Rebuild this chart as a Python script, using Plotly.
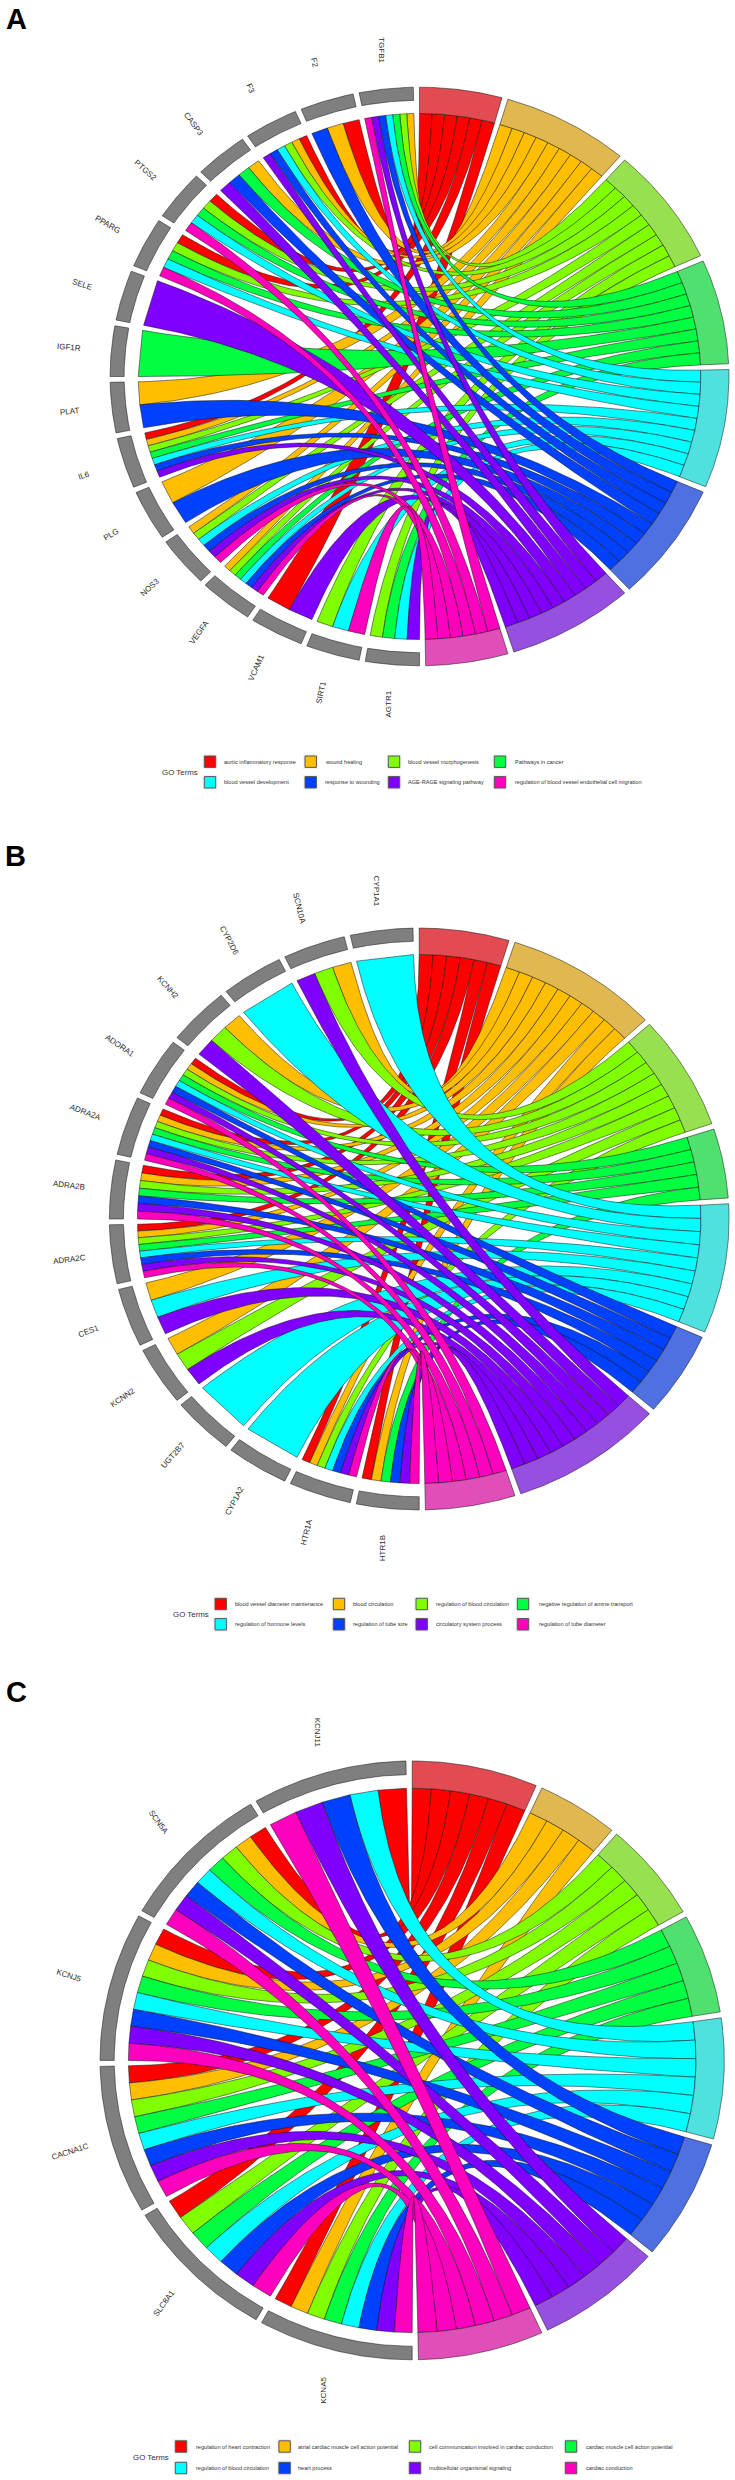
import math
import plotly.graph_objects as go

W, H = 735, 2480

RIBBON_COLORS = ["#FF0000", "#FFBF00", "#80FF00", "#00FF40", "#00FFFF", "#0040FF", "#8000FF", "#FF00BF"]
ARC_COLORS = ["#E24B52", "#E0B84F", "#97E04F", "#4FE070", "#4FE0E0", "#4F70E0", "#974FE0", "#E04FB8"]

A_GENES = ["TGFB1", "F2", "F3", "CASP3", "PTGS2", "PPARG", "SELE", "IGF1R", "PLAT", "IL6", "PLG", "NOS3", "VEGFA", "VCAM1", "SIRT1", "AGTR1"]
A_TERMS = ["aortic inflammatory response", "wound healing", "blood vessel morphogenesis", "Pathways in cancer",
           "blood vessel development", "response to wounding", "AGE-RAGE signaling pathway",
           "regulation of blood vessel endothelial cell migration"]
A_MEMBERS = [[0, 1, 1, 1, 1, 1, 1, 1], [1, 1, 0, 0, 0, 1, 0, 0], [1, 1, 1, 0, 1, 1, 1, 0], [0, 1, 0, 1, 0, 1, 1, 0],
             [1, 0, 1, 1, 1, 0, 0, 1], [1, 0, 1, 1, 1, 0, 0, 1], [0, 0, 0, 0, 0, 0, 1, 0], [0, 0, 0, 1, 0, 0, 0, 0],
             [0, 1, 0, 0, 0, 1, 0, 0], [1, 1, 1, 1, 1, 1, 1, 0], [0, 1, 0, 0, 0, 1, 0, 0], [0, 1, 1, 0, 1, 1, 1, 1],
             [0, 1, 1, 1, 1, 1, 1, 1], [1, 0, 0, 0, 0, 0, 1, 0], [0, 0, 1, 0, 1, 0, 0, 1], [0, 0, 1, 1, 1, 0, 1, 0]]

B_GENES = ["CYP1A1", "SCN10A", "CYP2D6", "KCNH2", "ADORA1", "ADRA2A", "ADRA2B", "ADRA2C", "CES1", "KCNN2", "UGT2B7", "CYP1A2", "HTR1A", "HTR1B"]
B_TERMS = ["blood vessel diameter maintenance", "blood circulation", "regulation of blood circulation",
           "negative regulation of amine transport", "regulation of hormone levels", "regulation of tube size",
           "circulatory system process", "regulation of tube diameter"]
B_MEMBERS = [[0, 0, 0, 0, 1, 0, 0, 0], [0, 1, 1, 0, 0, 0, 1, 0], [0, 0, 0, 0, 1, 0, 0, 0], [0, 1, 1, 0, 0, 0, 1, 0],
             [1, 1, 1, 1, 1, 1, 1, 1], [1, 1, 1, 1, 1, 1, 1, 1], [1, 1, 1, 1, 0, 1, 1, 1], [1, 1, 1, 1, 1, 1, 1, 1],
             [0, 1, 0, 0, 1, 0, 1, 0], [0, 1, 1, 0, 0, 0, 1, 0], [0, 0, 0, 0, 1, 0, 0, 0], [0, 0, 0, 0, 1, 0, 0, 0],
             [1, 1, 1, 0, 1, 1, 1, 1], [1, 1, 0, 1, 0, 1, 1, 1]]

C_GENES = ["KCNJ11", "SCN5A", "KCNJ5", "CACNA1C", "SLC8A1", "KCNA5"]
C_TERMS = ["regulation of heart contraction", "atrial cardiac muscle cell action potential",
           "cell communication involved in cardiac conduction", "cardiac muscle cell action potential",
           "regulation of blood circulation", "heart process", "multicellular organismal signaling", "cardiac conduction"]
C_MEMBERS = [[1, 0, 0, 0, 1, 1, 1, 1], [1, 1, 1, 1, 1, 1, 1, 1], [1, 1, 1, 1, 1, 1, 1, 1], [1, 1, 1, 1, 1, 1, 1, 1],
             [1, 0, 1, 1, 1, 1, 1, 1], [1, 1, 1, 1, 1, 1, 1, 1]]

# Layout (pixels): circle centre and radii, legend columns/rows, label position
PANELS = [
    dict(letter="A", genes=A_GENES, terms=A_TERMS, members=A_MEMBERS, cx=419.5, cy=376.5, rx=281.3, ry=263.0,
         letter_xy=(4, 19), title_xy=(160, 772), key_x=[210, 310.7, 394, 500], text_x=[222, 323, 406, 513], rows=[761.7, 782.3]),
    dict(letter="B", genes=B_GENES, terms=B_TERMS, members=B_MEMBERS, cx=419.2, cy=1219.0, rx=281.7, ry=264.5,
         letter_xy=(3, 856), title_xy=(170.7, 1614), key_x=[220.7, 339, 421.7, 523], text_x=[233, 351, 434, 537], rows=[1604, 1624.3]),
    dict(letter="C", genes=C_GENES, terms=C_TERMS, members=C_MEMBERS, cx=412.2, cy=2060.4, rx=283.8, ry=272.2,
         letter_xy=(4, 1692), title_xy=(131, 2457), key_x=[181, 284.6, 415, 571], text_x=[194, 296, 427, 584], rows=[2446.5, 2468]),
]

SPACE, R1, R2, GENE_R0, LABEL_R = 0.02, 1.0, 1.1, 1.05, 1.25
FONT = "Liberation Sans, Arial, sans-serif"


def band(a0, a1, r0, r1, n=50):
    angs = [a0 + (a1 - a0) * i / (n - 1) for i in range(n)]
    x = [r0 * math.sin(a) for a in angs] + [r1 * math.sin(a) for a in reversed(angs)]
    y = [r0 * math.cos(a) for a in angs] + [r1 * math.cos(a) for a in reversed(angs)]
    return x + x[:1], y + y[:1]


def poly(fig, x, y, fill, axis_id, width=0.5):
    fig.add_trace(go.Scatter(x=x, y=y, mode="lines", fill="toself", fillcolor=fill,
                             line=dict(color="#111111", width=width), hoverinfo="skip", showlegend=False,
                             xaxis=f"x{axis_id}", yaxis=f"y{axis_id}"))


fig = go.Figure()
annotations, shapes = [], []
layout_axes = {}

for idx, p in enumerate(PANELS, start=1):
    suffix = "" if idx == 1 else str(idx)
    x_lo, x_hi, y_lo, y_hi = -1.4, 1.12, -1.33, 1.33
    layout_axes[f"xaxis{suffix}"] = dict(range=[x_lo, x_hi], visible=False, fixedrange=True,
                                         domain=[(p["cx"] + x_lo * p["rx"]) / W, (p["cx"] + x_hi * p["rx"]) / W])
    layout_axes[f"yaxis{suffix}"] = dict(range=[y_lo, y_hi], visible=False, fixedrange=True,
                                         domain=[1 - (p["cy"] - y_lo * p["ry"]) / H, 1 - (p["cy"] - y_hi * p["ry"]) / H])

    members = p["members"]
    n_gene, n_term = len(members), len(members[0])
    nrib = [sum(row[t] for row in members) for t in range(n_term)]
    total = sum(nrib)

    # term arcs
    starts, spans, acc = [], [], 0.0
    for t in range(n_term):
        perc = nrib[t] / total
        starts.append(acc)
        spans.append(math.pi * perc - SPACE)
        acc += math.pi * perc

    # gene arcs
    g_step = (-math.pi + math.pi / n_gene) / (n_gene - 1)
    g_start = [-SPACE + g_step * i for i in range(n_gene)]
    g_span = -math.pi / n_gene + SPACE

    # gene-side ribbon ends, grouped by term
    ends = {t: [] for t in range(n_term)}
    for g in range(n_gene):
        pros = [t for t in range(n_term) if members[g][t]]
        k = len(pros)
        vals = [g_start[g] + g_span * i / k for i in range(k + 1)]
        for v, t in enumerate(pros):
            ends[t].append((math.sin(vals[v]), math.cos(vals[v])))
            ends[t].append((math.sin(vals[v + 1]), math.cos(vals[v + 1])))

    ts = [i / 100 for i in range(101)]
    for t in range(n_term):
        pts = sorted(ends[t], key=lambda e: -e[1])
        vals = [starts[t] + spans[t] * i / nrib[t] for i in range(nrib[t] + 1)]
        for r in range(nrib[t]):
            e0, e1 = pts[2 * r], pts[2 * r + 1]
            s0 = (math.sin(vals[r]), math.cos(vals[r]))
            s1 = (math.sin(vals[r + 1]), math.cos(vals[r + 1]))
            x0 = [(1 - u) ** 2 * s0[0] + u ** 2 * e0[0] for u in ts]
            y0 = [(1 - u) ** 2 * s0[1] + u ** 2 * e0[1] for u in ts]
            x1 = [(1 - u) ** 2 * s1[0] + u ** 2 * e1[0] for u in ts]
            y1 = [(1 - u) ** 2 * s1[1] + u ** 2 * e1[1] for u in ts]
            xs = x0 + x1[::-1] + x0[:1]
            ys = y0 + y1[::-1] + y0[:1]
            poly(fig, xs, ys, RIBBON_COLORS[t], idx)

    for t in range(n_term):
        x, y = band(starts[t], starts[t] + spans[t], R1, R2)
        poly(fig, x, y, ARC_COLORS[t], idx)

    for g in range(n_gene):
        x, y = band(g_start[g], g_start[g] + g_span, GENE_R0, R2)
        poly(fig, x, y, "#7F7F7F", idx)
        mid = g_start[g] + g_span / 2
        o = 180 * g / (n_gene - 1)
        ang = o + 270 if o + 270 <= 360 else o - 90
        annotations.append(dict(x=LABEL_R * math.sin(mid), y=LABEL_R * math.cos(mid), xref=f"x{suffix}", yref=f"y{suffix}",
                                text=p["genes"][g], showarrow=False, textangle=((-ang + 180) % 360) - 180,
                                font=dict(family=FONT, size=8, color="#2A2A2A"), xanchor="center", yanchor="middle"))

    # legend
    lx, ly = p["letter_xy"]
    annotations.append(dict(x=lx / W, y=1 - ly / H, xref="paper", yref="paper", text=f"<b>{p['letter']}</b>", showarrow=False,
                            xanchor="left", yanchor="middle", font=dict(family=FONT, size=29, color="#000000")))
    tx, ty = p["title_xy"]
    annotations.append(dict(x=tx / W, y=1 - ty / H, xref="paper", yref="paper", text="GO Terms", showarrow=False,
                            xanchor="left", yanchor="middle", font=dict(family=FONT, size=7.9, color="#333333")))
    for t in range(n_term):
        col, row = t % 4, t // 4
        kx, ky = p["key_x"][col], p["rows"][row]
        for half, fill, line in ((7.5, "#F2F2F2", None), (5.7, RIBBON_COLORS[t], "#555555")):
            shapes.append(dict(type="rect", xref="paper", yref="paper",
                               x0=(kx - half) / W, x1=(kx + half) / W, y0=1 - (ky + half) / H, y1=1 - (ky - half) / H,
                               fillcolor=fill, line=dict(color=line, width=1) if line else dict(width=0), layer="below"))
        annotations.append(dict(x=p["text_x"][col] / W, y=1 - ky / H, xref="paper", yref="paper", text=p["terms"][t],
                                showarrow=False, xanchor="left", yanchor="middle",
                                font=dict(family=FONT, size=5.6, color="#333333")))

fig.update_layout(width=W, height=H, margin=dict(l=0, r=0, t=0, b=0), paper_bgcolor="white", plot_bgcolor="white",
                  annotations=annotations, shapes=shapes, showlegend=False, **layout_axes)
fig.write_html("out.html", config={"displayModeBar": False},
               post_script="document.body.style.margin='0';")
